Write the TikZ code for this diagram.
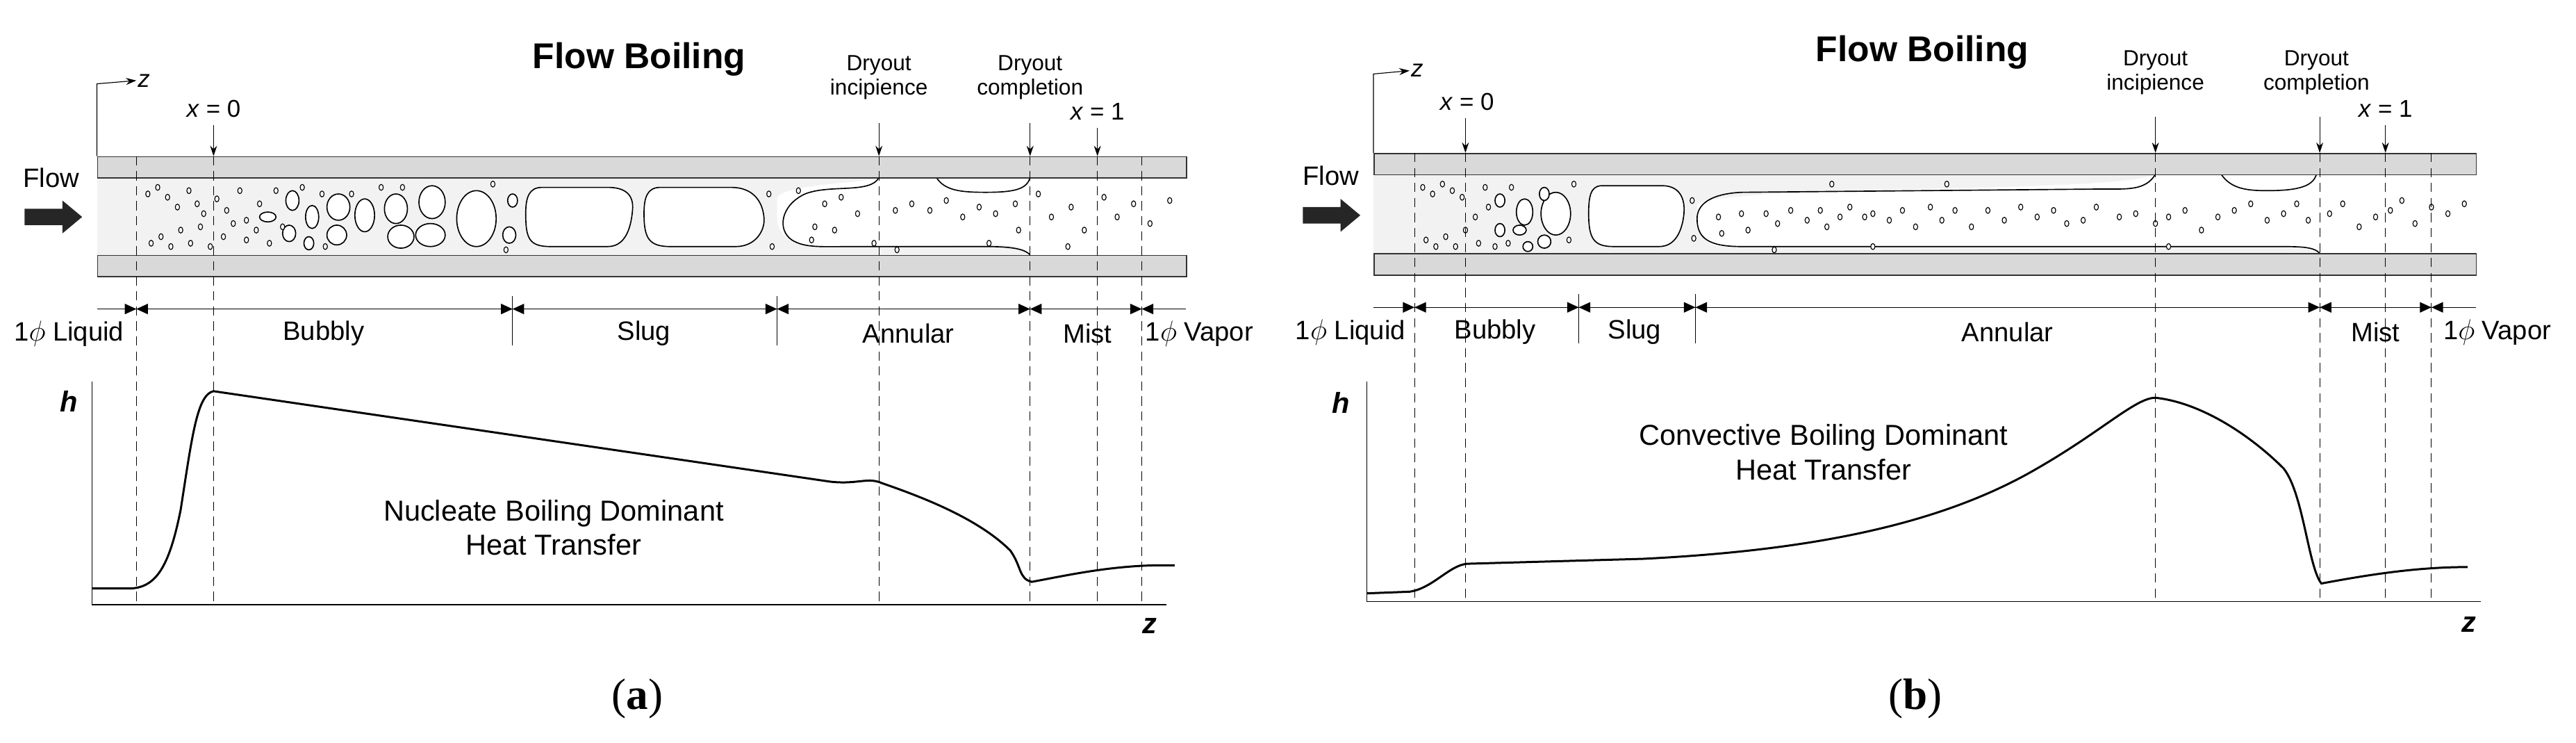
\documentclass[tikz,border=0pt]{standalone}
\usepackage{fontspec}
\setmainfont{Liberation Sans}
\newfontfamily\serf{Liberation Serif}
\usetikzlibrary{arrows.meta}
\begin{document}
\begin{tikzpicture}[x=0.5mm,y=-0.5mm,
  wall/.style={draw=black!80,fill=black!15,line width=1pt},
  core/.style={fill=black!5},
  dsh/.style={dash pattern=on 8pt off 5pt,line width=0.6pt},
  lab/.style={font=\fontsize{23}{26}\selectfont},
  slab/.style={font=\fontsize{21}{23}\selectfont},
  dlab/.style={font=\fontsize{19}{21}\selectfont,align=center,inner sep=1pt},
  bub/.style={draw,line width=1pt,fill=white},
  dot/.style={draw,line width=0.7pt,fill=white},
  curve/.style={line width=1.8pt},
  ptr/.style={-{Stealth[length=9pt,width=6pt]},line width=0.7pt},
  tri/.style={-{Triangle[length=10pt,width=9pt]},line width=0.7pt}]
\useasboundingbox (0,0) rectangle (1568,452);

% ================= panel (a) =================
\fill[core] (59,108) rectangle (722,155);
\fill[white] (473,120) .. controls (480,112) and (520,112) .. (535,108) -- (627,108) -- (627,155) .. controls (620,145) and (605,150) .. (500,150) .. controls (478,150) and (473,140) .. (473,132) -- cycle;
\fill[white] (627,108) rectangle (722,155);
\draw[line width=1pt] (535,108) .. controls (530,118) and (505,112) .. (490,118) .. controls (475,125) and (473,140) .. (482,146) .. controls (490,151) and (500,150) .. (520,150) -- (600,150) .. controls (618,150) and (624,152) .. (627,155);
\draw[line width=1pt,fill=white] (570,108) .. controls (575,116) and (585,117) .. (600,117) .. controls (618,117) and (625,115) .. (627,108);
\node[wall,minimum width=663*0.5mm,minimum height=13*0.5mm,inner sep=0,anchor=north west] (wa1) at (59,95) {};
\node[wall,minimum width=663*0.5mm,minimum height=13*0.5mm,inner sep=0,anchor=north west] (wa2) at (59,155) {};
% slug bubbles
\draw[bub] (330,114) .. controls (322,114) and (320,120) .. (320,130) .. controls (320,145) and (322,150) .. (335,150) -- (370,150) .. controls (380,150) and (384,140) .. (385,128) .. controls (386,118) and (380,114) .. (370,114) -- cycle;
\draw[bub] (402,114) .. controls (394,114) and (392,120) .. (392,130) .. controls (392,145) and (395,150) .. (408,150) -- (448,150) .. controls (460,150) and (466,140) .. (465,132) .. controls (464,122) and (458,114) .. (445,114) -- cycle;
% bubbly bubbles
\foreach \x/\y/\a/\b in {290/133/12/17,263/123/8/10,262/143/9/7,241/127/7/9,244/144/8/7,222/131/6/10,206/126/7/8,205/143/6/6,190/132/4/7,178/122/4/6,176/142/4/5,163/132/5/3,188/148/3/4,312/122/3/4,310/143/4/5}
  \draw[bub] (\x,\y) ellipse[x radius=\a,y radius=\b];
\foreach \x/\y in {90/118,96/114,102/120,108/126,115/116,120/124,124/130,132/121,138/128,146/116,150/134,158/124,92/148,98/144,104/150,110/140,116/148,122/138,128/150,136/144,142/136,150/146,156/140,164/148,168/116,172/138,184/114,196/118,198/150,214/118,232/114,245/114,300/112,308/152,468/118,470/150,486/116,502/124,512/120,496/138,508/140,522/130,545/128,555/124,566/128,576/122,586/132,596/126,606/130,618/124,620/140,632/118,640/132,652/126,660/140,672/120,680/132,690/124,700/136,712/122,494/146,532/148,546/152,602/148,650/150}
  \draw[dot] (\x,\y) ellipse[x radius=1.3,y radius=1.8];
% flow arrow
\node[lab,anchor=west,inner sep=0] (fl1) at (14,108) {Flow};
\fill[black!85] (15,127) -- (38,127) -- (38,122) -- (50,132) -- (38,142) -- (38,137) -- (15,137) -- cycle;
% z axis
\coordinate (za0) at (59,95); \coordinate (za1) at (59,51);
\node[lab,anchor=west,inner sep=1pt,font=\fontsize{21}{23}\selectfont\itshape] (za) at (83,49) {z};
\draw[ptr] (za0) -- (za1) -- (za.west);
% top labels
\node[font=\fontsize{31}{34}\selectfont\bfseries] (fb1) at (389,36) {Flow Boiling};
\node[dlab] (di1) at (535,47) {Dryout\\incipience};
\node[dlab] (dc1) at (627,47) {Dryout\\completion};
\node[slab] (xa0) at (130,66) {\textit{x} = 0};
\node[slab] (xa1) at (668,68) {\textit{x} = 1};
\coordinate (p1) at (130,95); \coordinate (p2) at (535,95); \coordinate (p3) at (627,95); \coordinate (p4) at (668,95);
\draw[ptr] (130,76) -- (p1);
\draw[ptr] (535,75) -- (p2);
\draw[ptr] (627,75) -- (p3);
\draw[ptr] (668,78) -- (p4);
% dashed lines
\foreach \x in {83,130,535,627,668,695} \draw[dsh] (\x,95) -- (\x,368);
% regime line
\draw[line width=0.7pt] (59,188) -- (722,188);
\foreach \x in {83,312,473,627,695} {\draw[tri] (\x-10,188) -- (\x,188); \draw[tri] (\x+10,188) -- (\x,188);}
\draw[line width=0.5pt] (312,180) -- (312,210) (473,180) -- (473,210);
\foreach \x/\t in {42/1$\phi$ Liquid,197/Bubbly,392/Slug,553/Annular,662/Mist,730/1$\phi$ Vapor}
  \node[lab] at (\x,203) {\t};
% plot
\draw[line width=1pt] (56,232) -- (56,368) -- (710,368);
\node[font=\fontsize{25}{27}\selectfont\bfseries\itshape] (ha) at (42,244) {h};
\node[font=\fontsize{25}{27}\selectfont\bfseries\itshape] (zb) at (700,381) {z};
\draw[curve] (56,358) -- (80,358) .. controls (95,357) and (103,345) .. (110,310) .. controls (117,265) and (120,240) .. (130,238) -- (505,293) .. controls (522,295) and (528,290) .. (537,294) .. controls (560,302) and (595,315) .. (615,335) .. controls (622,345) and (620,352) .. (628,354) .. controls (650,350) and (680,343) .. (715,344);
\node[font=\fontsize{25}{30}\selectfont,align=center] (ta) at (337,321) {Nucleate Boiling Dominant\\Heat Transfer};
\node[font=\fontsize{38}{40}\selectfont\serf] (la) at (388,425) {(\textbf{a})};

% ================= panel (b) =================
\fill[core] (836,106) rectangle (1507,154);
\fill[white] (1033,125) .. controls (1040,112) and (1290,118) .. (1312,106) -- (1412,106) -- (1412,154) .. controls (1400,148) and (1390,150) .. (1050,150) .. controls (1036,150) and (1033,140) .. (1033,133) -- cycle;
\fill[white] (1412,106) rectangle (1507,154);
\draw[line width=1pt] (1312,106) .. controls (1306,116) and (1295,115) .. (1280,115) -- (1060,117) .. controls (1040,118) and (1033,125) .. (1033,133) .. controls (1033,145) and (1040,150) .. (1060,150) -- (1385,150) .. controls (1400,150) and (1408,150) .. (1412,154);
\draw[line width=1pt,fill=white] (1352,106) .. controls (1358,115) and (1368,116) .. (1380,116) .. controls (1400,116) and (1408,113) .. (1410,106);
\node[wall,minimum width=671*0.5mm,minimum height=13*0.5mm,inner sep=0,anchor=north west] (wb1) at (836,93) {};
\node[wall,minimum width=671*0.5mm,minimum height=13*0.5mm,inner sep=0,anchor=north west] (wb2) at (836,154) {};
\draw[bub] (975,113) .. controls (968,113) and (967,120) .. (967,130) .. controls (967,145) and (970,150) .. (982,150) -- (1010,150) .. controls (1020,150) and (1024,140) .. (1025,130) .. controls (1026,118) and (1020,113) .. (1012,113) -- cycle;
\foreach \x/\y/\a/\b in {947/130/9/13,928/129/5/8,925/140/4/3,930/150/3/3,940/118/3/4,940/147/4/4,913/122/3/4,913/140/3/4}
  \draw[bub] (\x,\y) ellipse[x radius=\a,y radius=\b];
\foreach \x/\y in {866/114,872/118,878/112,884/116,890/120,868/146,874/150,880/144,886/150,892/140,898/132,900/148,904/114,906/126,910/150,918/148,920/114,955/146,958/112,1030/122,1031/145,1046/132,1048/142,1060/130,1064/140,1075/130,1082/136,1090/128,1100/134,1108/128,1112/138,1120/132,1126/126,1135/132,1140/130,1150/134,1158/128,1166/138,1175/126,1182/134,1190/128,1200/138,1210/128,1220/134,1230/126,1240/132,1250/128,1258/136,1268/134,1276/126,1290/132,1300/130,1312/136,1320/132,1330/128,1340/140,1350/132,1360/128,1370/124,1380/134,1390/130,1398/124,1405/134,1418/130,1426/124,1436/138,1446/132,1455/128,1462/122,1470/136,1480/126,1490/130,1500/124,1080/152,1140/150,1320/150,1115/112,1185/112}
  \draw[dot] (\x,\y) ellipse[x radius=1.3,y radius=1.8];
\node[lab,anchor=west,inner sep=0] (fl2) at (793,107) {Flow};
\fill[black!85] (793,126) -- (816,126) -- (816,121) -- (828,131) -- (816,141) -- (816,136) -- (793,136) -- cycle;
\coordinate (zb0) at (836,93); \coordinate (zb1) at (836,45);
\node[lab,anchor=west,inner sep=1pt,font=\fontsize{21}{23}\selectfont\itshape] (zz) at (858,43) {z};
\draw[ptr] (zb0) -- (zb1) -- (zz.west);
\node[font=\fontsize{31}{34}\selectfont\bfseries] (fb2) at (1170,32) {Flow Boiling};
\node[dlab] (di2) at (1312,44) {Dryout\\incipience};
\node[dlab] (dc2) at (1410,44) {Dryout\\completion};
\node[slab] (xb0) at (893,62) {\textit{x} = 0};
\node[slab] (xb1) at (1452,66) {\textit{x} = 1};
\coordinate (q1) at (892,93); \coordinate (q2) at (1312,93); \coordinate (q3) at (1412,93); \coordinate (q4) at (1452,93);
\draw[ptr] (892,72) -- (q1);
\draw[ptr] (1312,71) -- (q2);
\draw[ptr] (1412,71) -- (q3);
\draw[ptr] (1452,76) -- (q4);
\foreach \x in {861,892,1312,1412,1452,1480} \draw[dsh] (\x,93) -- (\x,366);
\draw[line width=0.7pt] (836,187) -- (1507,187);
\foreach \x in {861,961,1032,1412,1480} {\draw[tri] (\x-10,187) -- (\x,187); \draw[tri] (\x+10,187) -- (\x,187);}
\draw[line width=0.5pt] (961,179) -- (961,209) (1032,179) -- (1032,209);
\foreach \x/\t in {822/1$\phi$ Liquid,910/Bubbly,995/Slug,1222/Annular,1446/Mist,1520/1$\phi$ Vapor}
  \node[lab] at (\x,202) {\t};
\draw[line width=1pt] (832,232) -- (832,366) -- (1510,366);
\node[font=\fontsize{25}{27}\selectfont\bfseries\itshape] (hb) at (816,245) {h};
\node[font=\fontsize{25}{27}\selectfont\bfseries\itshape] (zc) at (1503,380) {z};
\draw[curve] (832,361) -- (858,360) .. controls (872,358) and (882,344) .. (893,343) -- (1000,340) .. controls (1100,335) and (1180,320) .. (1240,285) .. controls (1280,262) and (1300,242) .. (1312,242) .. controls (1340,245) and (1370,265) .. (1390,285) .. controls (1402,300) and (1405,345) .. (1413,355) .. controls (1440,350) and (1470,345) .. (1502,345);
\node[font=\fontsize{25}{30}\selectfont,align=center] (tb) at (1110,275) {Convective Boiling Dominant\\Heat Transfer};
\node[font=\fontsize{38}{40}\selectfont\serf] (lb) at (1166,425) {(\textbf{b})};
\end{tikzpicture}
\end{document}
